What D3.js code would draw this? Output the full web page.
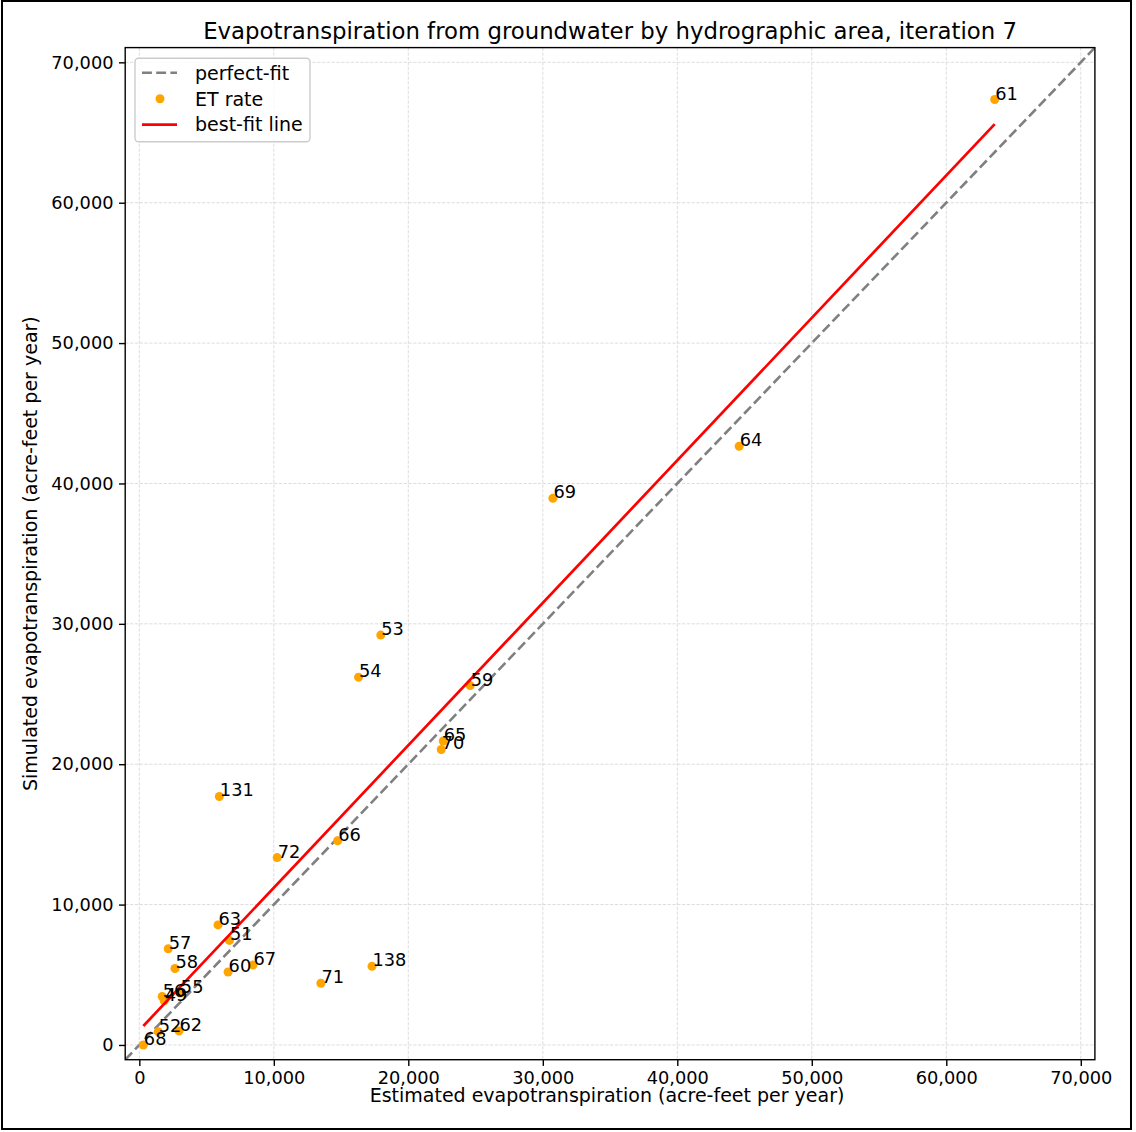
<!DOCTYPE html>
<html>
<head>
<meta charset="utf-8">
<script src="https://cdn.jsdelivr.net/npm/d3@7"></script>
<style>
  html, body { margin: 0; padding: 0; background: #fff; }
  svg { display: block; font-family: "DejaVu Sans", sans-serif; }
</style>
</head>
<body>
<svg id="chart" width="1136" height="1132"></svg>
<script>
// Hydrographic area numbers and their evapotranspiration values (acre-feet per year)
const areas = ["61", "64", "69", "53", "54", "59", "65", "70", "131", "72", "66", "63", "51",
               "60", "67", "71", "138", "57", "58", "56", "49", "55", "52", "62", "68"];
const estimated = [63600, 44600, 30750, 17950, 16300, 24600, 22600, 22450, 5950, 10250, 14750, 5850, 6700,
                   6600, 8450, 13500, 17300, 2150, 2650, 1700, 1850, 3050, 1400, 2950, 300];
const simulated = [67350, 42650, 38950, 29200, 26200, 25600, 21650, 21050, 17700, 13350, 14550, 8550, 7450,
                   5200, 5700, 4400, 5600, 6850, 5450, 3450, 3150, 3700, 950, 1000, 0];
const tickValues = [0, 10000, 20000, 30000, 40000, 50000, 60000, 70000];
const axisLimits = [-1050, 71050];

const titleText = "Evapotranspiration from groundwater by hydrographic area, iteration 7";
const xLabelText = "Estimated evapotranspiration (acre-feet per year)";
const yLabelText = "Simulated evapotranspiration (acre-feet per year)";
const legendLabels = ["perfect-fit", "ET rate", "best-fit line"];

const svg = d3.select("#chart");
const plot = { left: 125.2, right: 1094.9, top: 47.6, bottom: 1059.7 };
const FS = 17.8;       // tick labels and area labels
const FS_LABEL = 19;   // axis labels and legend
const FS_TITLE = 22.8;

// outer frame
svg.append("rect").attr("x", 2).attr("y", 1).attr("width", 1129).attr("height", 1128)
  .attr("fill", "none").attr("stroke", "#000").attr("stroke-width", 2);

const x = d3.scaleLinear().domain(axisLimits).range([plot.left, plot.right]);
const y = d3.scaleLinear().domain(axisLimits).range([plot.bottom, plot.top]);

const points = areas.map((a, i) => ({ area: a, est: estimated[i], sim: simulated[i] }));

// least-squares fit of simulated on estimated
const mx = d3.mean(estimated), my = d3.mean(simulated);
let sxy = 0, sxx = 0;
points.forEach(p => { sxy += (p.est - mx) * (p.sim - my); sxx += (p.est - mx) ** 2; });
const slope = sxy / sxx, intercept = my - slope * mx;
const [xMin, xMax] = d3.extent(estimated);

// grid
const grid = svg.append("g");
tickValues.forEach(t => {
  grid.append("line").attr("x1", x(t)).attr("x2", x(t)).attr("y1", plot.top).attr("y2", plot.bottom);
  grid.append("line").attr("y1", y(t)).attr("y2", y(t)).attr("x1", plot.left).attr("x2", plot.right);
});
grid.selectAll("line").attr("stroke", "#d4d4d4").attr("stroke-width", 0.8)
  .attr("stroke-dasharray", "3.3,1.5");

svg.append("clipPath").attr("id", "plotclip").append("rect")
  .attr("x", plot.left).attr("y", plot.top)
  .attr("width", plot.right - plot.left).attr("height", plot.bottom - plot.top);

const layer = svg.append("g").attr("clip-path", "url(#plotclip)");

// perfect-fit (1:1) line
layer.append("line")
  .attr("x1", x(axisLimits[0])).attr("y1", y(axisLimits[0]))
  .attr("x2", x(axisLimits[1])).attr("y2", y(axisLimits[1]))
  .attr("stroke", "#808080").attr("stroke-width", 2.6).attr("stroke-dasharray", "9.9,4.3");

// ET points
layer.selectAll("circle.pt").data(points).enter().append("circle")
  .attr("class", "pt")
  .attr("cx", d => x(d.est)).attr("cy", d => y(d.sim)).attr("r", 4.5)
  .attr("fill", "#ffa500");

// best-fit line
layer.append("line")
  .attr("x1", x(xMin)).attr("y1", y(slope * xMin + intercept))
  .attr("x2", x(xMax)).attr("y2", y(slope * xMax + intercept))
  .attr("stroke", "#ff0000").attr("stroke-width", 2.7);

// area labels
svg.append("g").selectAll("text").data(points).enter().append("text")
  .attr("x", d => x(d.est) + 0.5).attr("y", d => y(d.sim))
  .attr("font-size", FS).attr("fill", "#000")
  .text(d => d.area);

// spines
svg.append("rect").attr("x", plot.left).attr("y", plot.top)
  .attr("width", plot.right - plot.left).attr("height", plot.bottom - plot.top)
  .attr("fill", "none").attr("stroke", "#000").attr("stroke-width", 1.4);

// axes
const fmt = d3.format(",");
const xAxis = svg.append("g").attr("transform", `translate(0,${plot.bottom})`)
  .call(d3.axisBottom(x).tickValues(tickValues).tickFormat(fmt).tickSize(6.2).tickPadding(5.5));
const yAxis = svg.append("g").attr("transform", `translate(${plot.left},0)`)
  .call(d3.axisLeft(y).tickValues(tickValues).tickFormat(fmt).tickSize(6.2).tickPadding(5.5));
[xAxis, yAxis].forEach(g => {
  g.select(".domain").remove();
  g.selectAll(".tick line").attr("stroke", "#000").attr("stroke-width", 1.4);
  g.selectAll(".tick text").attr("font-size", FS).attr("fill", "#000")
    .attr("font-family", "DejaVu Sans, sans-serif");
});

// title and axis labels
svg.append("text").attr("x", (plot.left + plot.right) / 2).attr("y", 38.5)
  .attr("text-anchor", "middle").attr("font-size", FS_TITLE).attr("fill", "#000").text(titleText);
svg.append("text").attr("x", (plot.left + plot.right) / 2 - 3).attr("y", 1101.5)
  .attr("text-anchor", "middle").attr("font-size", FS_LABEL).attr("fill", "#000").text(xLabelText);
svg.append("text")
  .attr("transform", `translate(37.3,${(plot.top + plot.bottom) / 2}) rotate(-90)`)
  .attr("text-anchor", "middle").attr("font-size", FS_LABEL).attr("fill", "#000").text(yLabelText);

// legend
const lg = svg.append("g");
lg.append("rect").attr("x", 135).attr("y", 58.3).attr("width", 175).attr("height", 83.4)
  .attr("rx", 3.5).attr("fill", "#fff").attr("fill-opacity", 0.8)
  .attr("stroke", "#cccccc").attr("stroke-width", 1.4);
const rowY = [72.7, 98.8, 124.6];
lg.append("line").attr("x1", 142).attr("x2", 177).attr("y1", rowY[0]).attr("y2", rowY[0])
  .attr("stroke", "#808080").attr("stroke-width", 2.6).attr("stroke-dasharray", "9.9,4.3");
lg.append("circle").attr("cx", 160).attr("cy", rowY[1]).attr("r", 4.5).attr("fill", "#ffa500");
lg.append("line").attr("x1", 142).attr("x2", 177).attr("y1", rowY[2]).attr("y2", rowY[2])
  .attr("stroke", "#ff0000").attr("stroke-width", 2.7);
legendLabels.forEach((t, i) => {
  lg.append("text").attr("x", 195).attr("y", rowY[i]).attr("dy", "0.36em")
    .attr("font-size", FS_LABEL).attr("fill", "#000").text(t);
});
</script>
</body>
</html>
